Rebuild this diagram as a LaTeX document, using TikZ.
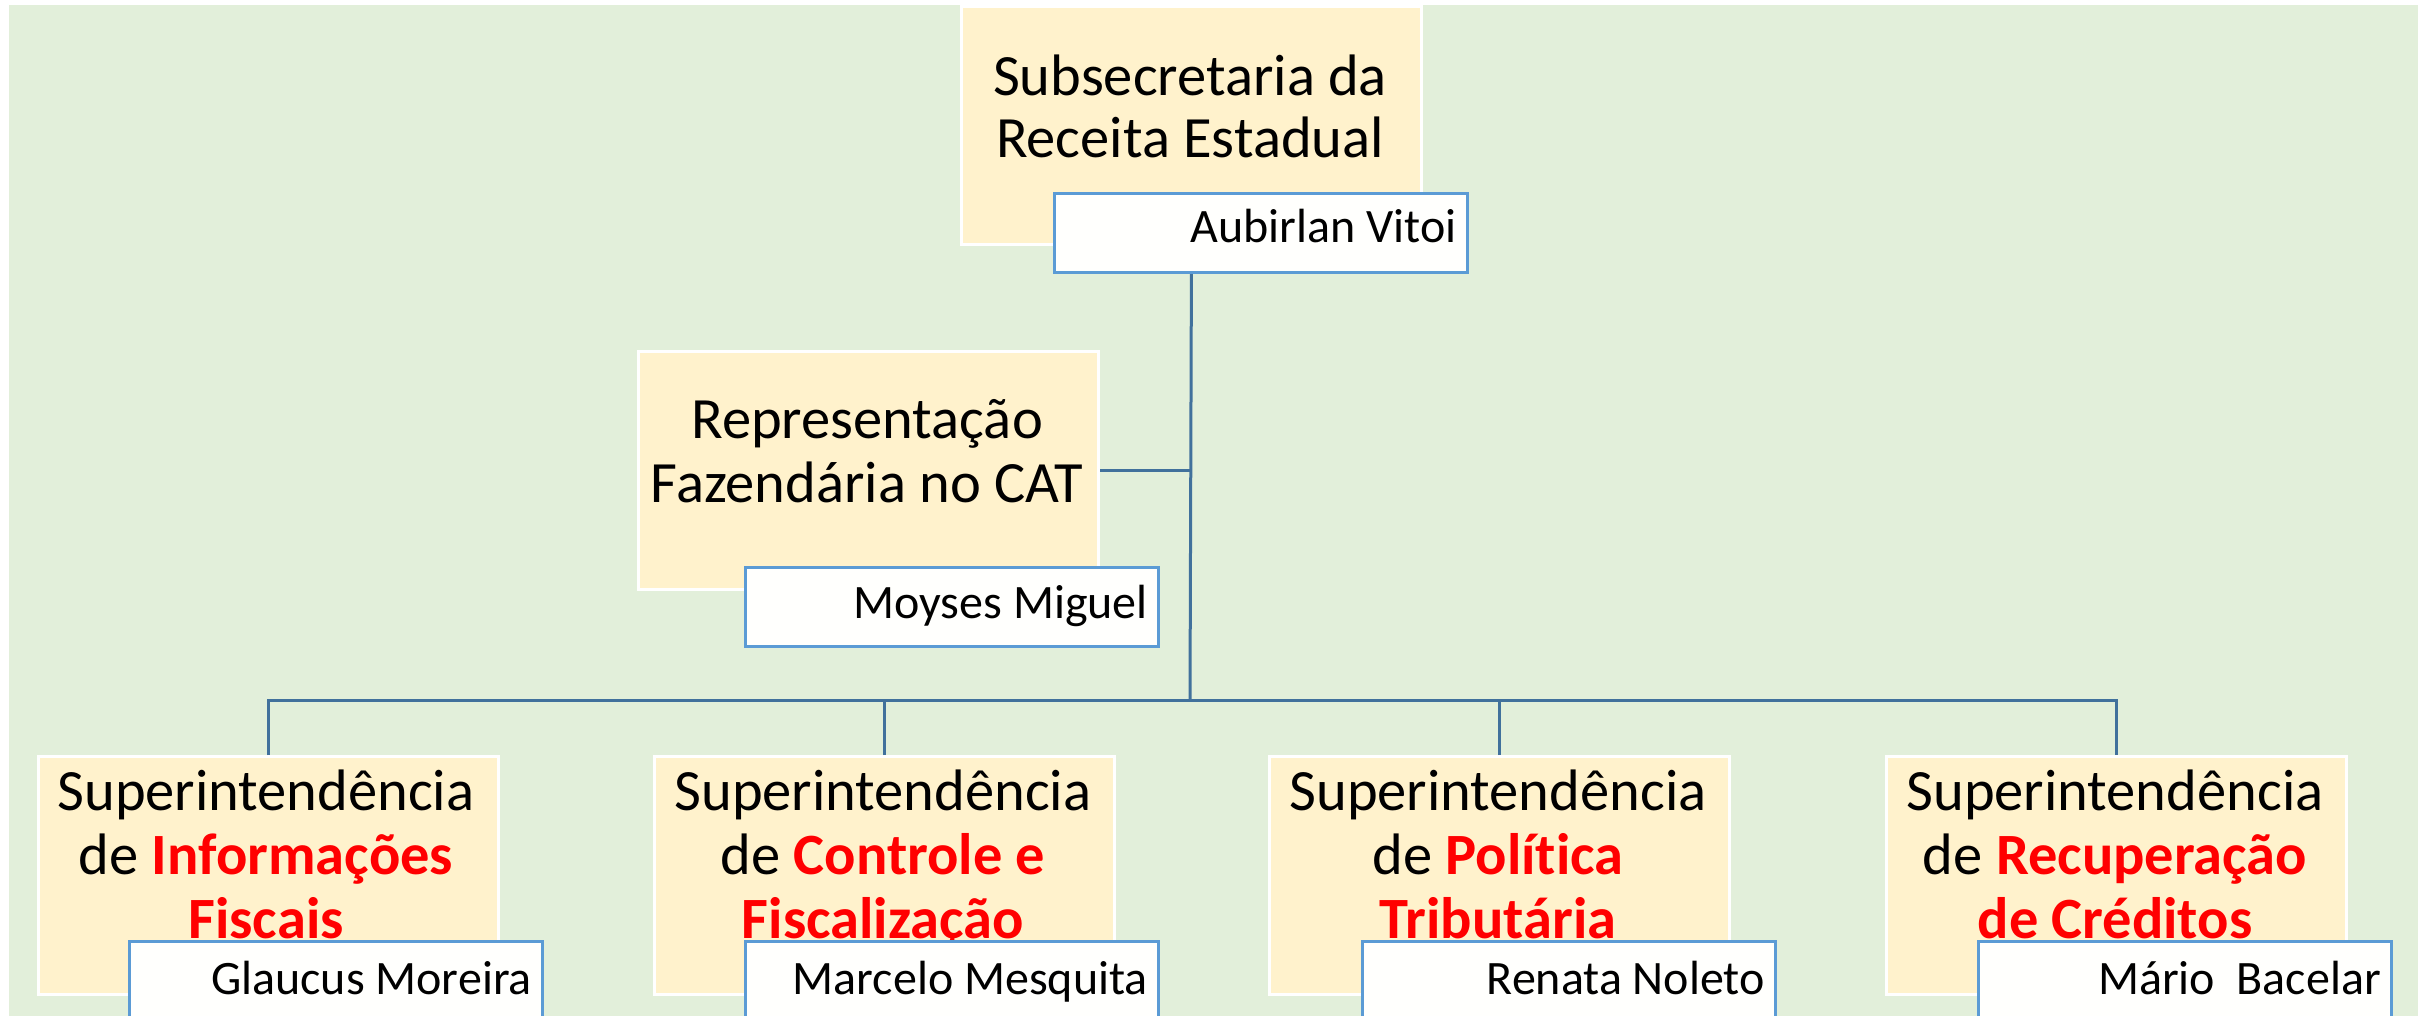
\documentclass[tikz,border=0pt]{standalone}
\usepackage{fontspec}
\setmainfont{Carlito}[Ligatures=NoCommon]
\definecolor{bggreen}{HTML}{E2EFDA}
\definecolor{boxyellow}{HTML}{FFF2CC}
\definecolor{namebord}{HTML}{5B9BD5}
\definecolor{linkblue}{HTML}{41719C}
\definecolor{accent}{HTML}{FF0000}
\begin{document}
\begin{tikzpicture}[x=1pt,y=-1pt,
  unitbox/.style={draw=white, line width=3pt, fill=boxyellow, minimum width=460pt, minimum height=238pt, anchor=north west, inner sep=0pt},
  namebox/.style={draw=namebord, line width=3pt, fill=white!97!boxyellow, minimum width=413pt, minimum height=79pt, anchor=north west, inner sep=0pt},
  titletext/.style={font=\fontsize{58.5}{63}\selectfont, anchor=base, inner sep=0pt},
  persontext/.style={font=\fontsize{48}{52}\selectfont, anchor=base east, inner sep=0pt},
  link/.style={draw=linkblue, line width=3pt}]
\newcommand{\redb}[1]{\textbf{\color{accent}#1}}
\useasboundingbox (0,0) rectangle (2425,1016);
\fill[white] (0,0) rectangle (2425,1016);
\fill[bggreen] (9,5) rectangle (2418,1016);

% unit boxes
\node[unitbox] (top) at (960,5) {};
\node[unitbox] (rep) at (637,350) {};
\node[unitbox] (s1) at (37,755) {};
\node[unitbox] (s2) at (653,755) {};
\node[unitbox] (s3) at (1268,755) {};
\node[unitbox] (s4) at (1885,755) {};

% unit texts
\node[titletext] (topa) at (1190,96) {Subsecretaria da};
\node[titletext] (topb) at (1190,158) {Receita Estadual};
\node[titletext] (repa) at (867,438) {Representação};
\node[titletext] (repb) at (867,502) {Fazendária no CAT};

\node[titletext] (s1a) at (266,810) {Superintendência};
\node[titletext] (s1b) at (266,874) {de \redb{Informações}};
\node[titletext] (s1c) at (266,938) {\redb{Fiscais}};

\node[titletext] (s2a) at (883,810) {Superintendência};
\node[titletext] (s2b) at (883,874) {de \redb{Controle e}};
\node[titletext] (s2c) at (883,938) {\redb{Fiscalização}};

\node[titletext] (s3a) at (1498,810) {Superintendência};
\node[titletext] (s3b) at (1498,874) {de \redb{Política}};
\node[titletext] (s3c) at (1498,938) {\redb{Tributária}};

\node[titletext] (s4a) at (2115,810) {Superintendência};
\node[titletext] (s4b) at (2115,874) {de \redb{Recuperação}};
\node[titletext] (s4c) at (2115,938) {\redb{de Créditos}};

% connectors
\coordinate (bus) at (1190,700);
\coordinate (b1) at (s1.north |- bus);
\coordinate (b2) at (s2.north |- bus);
\coordinate (b3) at (s3.north |- bus);
\coordinate (b4) at (s4.north |- bus);
\coordinate (rj) at (rep.east -| top.south);
\draw[link] (top.south) -- (bus);
\draw[link] (rep.east) -- (rj);
\draw[link] (s1.north) -- (b1) -- (b4) -- (s4.north);
\draw[link] (s2.north) -- (b2);
\draw[link] (s3.north) -- (b3);

% name boxes
\node[namebox] (topn) at (1053,192) {};
\node[namebox] (repn) at (744,566) {};
\node[namebox] (n1) at (128,940) {};
\node[namebox] (n2) at (744,940) {};
\node[namebox] (n3) at (1361,940) {};
\node[namebox] (n4) at (1977,940) {};

\node[persontext] (topnt) at ([xshift=-12pt,yshift=-51pt]topn.north east) {Aubirlan Vitoi};
\node[persontext] (repnt) at ([xshift=-12pt,yshift=-52pt]repn.north east) {Moyses Miguel};
\node[persontext] (n1t) at ([xshift=-12pt,yshift=-54pt]n1.north east) {Glaucus Moreira};
\node[persontext] (n2t) at ([xshift=-12pt,yshift=-54pt]n2.north east) {Marcelo Mesquita};
\node[persontext] (n3t) at ([xshift=-12pt,yshift=-54pt]n3.north east) {Renata Noleto};
\node[persontext] (n4t) at ([xshift=-12pt,yshift=-54pt]n4.north east) {Mário\ \ Bacelar};
\end{tikzpicture}
\end{document}
